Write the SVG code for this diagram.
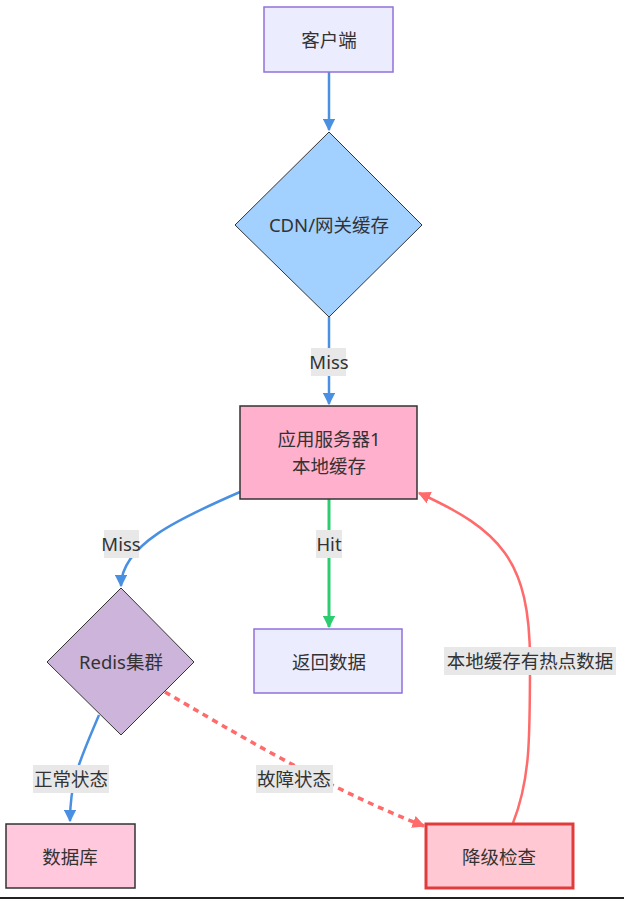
<svg xmlns="http://www.w3.org/2000/svg" width="624" height="899" viewBox="0 0 624 899">
<defs>
<style>
text{font-family:"Noto Sans","Noto Sans CJK SC",sans-serif;font-size:18.5px;fill:#333;text-anchor:middle;dominant-baseline:central}
.e{fill:none;stroke-width:2.5}
.lb{fill:#e8e8e8}
</style>
<marker id="ab" viewBox="0 0 10 10" refX="9" refY="5" markerWidth="5" markerHeight="5" orient="auto"><path d="M0,0L10,5L0,10z" fill="#4A90E2"/></marker>
<marker id="ag" viewBox="0 0 10 10" refX="9" refY="5" markerWidth="4.2" markerHeight="4.2" orient="auto"><path d="M0,0L10,5L0,10z" fill="#2ECC71"/></marker>
<marker id="ar" viewBox="0 0 10 10" refX="9" refY="5" markerWidth="5" markerHeight="5" orient="auto"><path d="M0,0L10,5L0,10z" fill="#FF6B6B"/></marker>
<marker id="ar2" viewBox="0 0 10 10" refX="9" refY="5" markerWidth="3.6" markerHeight="3.6" orient="auto"><path d="M0,0L10,5L0,10z" fill="#FF6B6B"/></marker>
</defs>
<rect width="624" height="899" fill="#fff"/>
<g id="edges">
<path class="e" stroke="#4A90E2" d="M329,72L329,130" marker-end="url(#ab)"/>
<path class="e" stroke="#4A90E2" d="M329,317L329,404" marker-end="url(#ab)"/>
<path class="e" stroke="#4A90E2" d="M240,492C180,518 121,545 121,586" marker-end="url(#ab)"/>
<path class="e" stroke="#2ECC71" style="stroke-width:3" d="M329,499L329,627" marker-end="url(#ag)"/>
<path class="e" stroke="#4A90E2" d="M99,715C80,760 70,780 70,821" marker-end="url(#ab)"/>
<path class="e" stroke="#FF6B6B" style="stroke-width:3.5" stroke-dasharray="6,5" d="M165,692C230,730 330,790 424,826" marker-end="url(#ar2)"/>
<path class="e" stroke="#FF6B6B" d="M513,823C530,780 530,740 530,661C530,560 500,530 419,493" marker-end="url(#ar)"/>
<rect class="lb" x="311" y="348" width="35" height="28"/><text x="329" y="361">Miss</text>
<rect class="lb" x="104" y="530" width="35" height="28"/><text x="121" y="543">Miss</text>
<rect class="lb" x="316" y="530" width="26" height="28"/><text x="329" y="543">Hit</text>
<rect class="lb" x="33" y="765" width="76" height="28"/><text x="71" y="778">正常状态</text>
<rect class="lb" x="256" y="765" width="77" height="28"/><text x="294" y="778">故障状态</text>
<rect class="lb" x="444" y="647" width="172" height="28"/><text x="530" y="660">本地缓存有热点数据</text>
</g>
<g id="client"><rect x="264" y="7" width="129" height="65" fill="#ECECFF" stroke="#9370DB" stroke-width="1.5"/><text x="329" y="39">客户端</text></g>
<g id="cdn"><polygon points="329,132 422,225 329,317 235,225" fill="#A3D1FF" stroke="#333" stroke-width="1"/><text x="329" y="224">CDN/网关缓存</text></g>
<g id="app"><rect x="240" y="406" width="177" height="93" fill="#FFB0CD" stroke="#333" stroke-width="1.5"/><text x="329" y="438">应用服务器1</text><text x="329" y="465">本地缓存</text></g>
<g id="ret"><rect x="254" y="629" width="148" height="64" fill="#ECECFF" stroke="#9370DB" stroke-width="1.5"/><text x="329" y="661">返回数据</text></g>
<g id="redis"><polygon points="121,588 194,662 121,735 47,662" fill="#CDB4DB" stroke="#333" stroke-width="1"/><text x="121" y="661">Redis集群</text></g>
<g id="db"><rect x="6" y="824" width="129" height="64" fill="#FFC8DD" stroke="#333" stroke-width="1.5"/><text x="70" y="856">数据库</text></g>
<g id="degrade"><rect x="426" y="824" width="147" height="64" fill="#FFC8D2" stroke="#E03C3C" stroke-width="3"/><text x="499" y="856">降级检查</text></g>
<line x1="0" y1="898" x2="624" y2="898" stroke="#222" stroke-width="2"/>
</svg>
